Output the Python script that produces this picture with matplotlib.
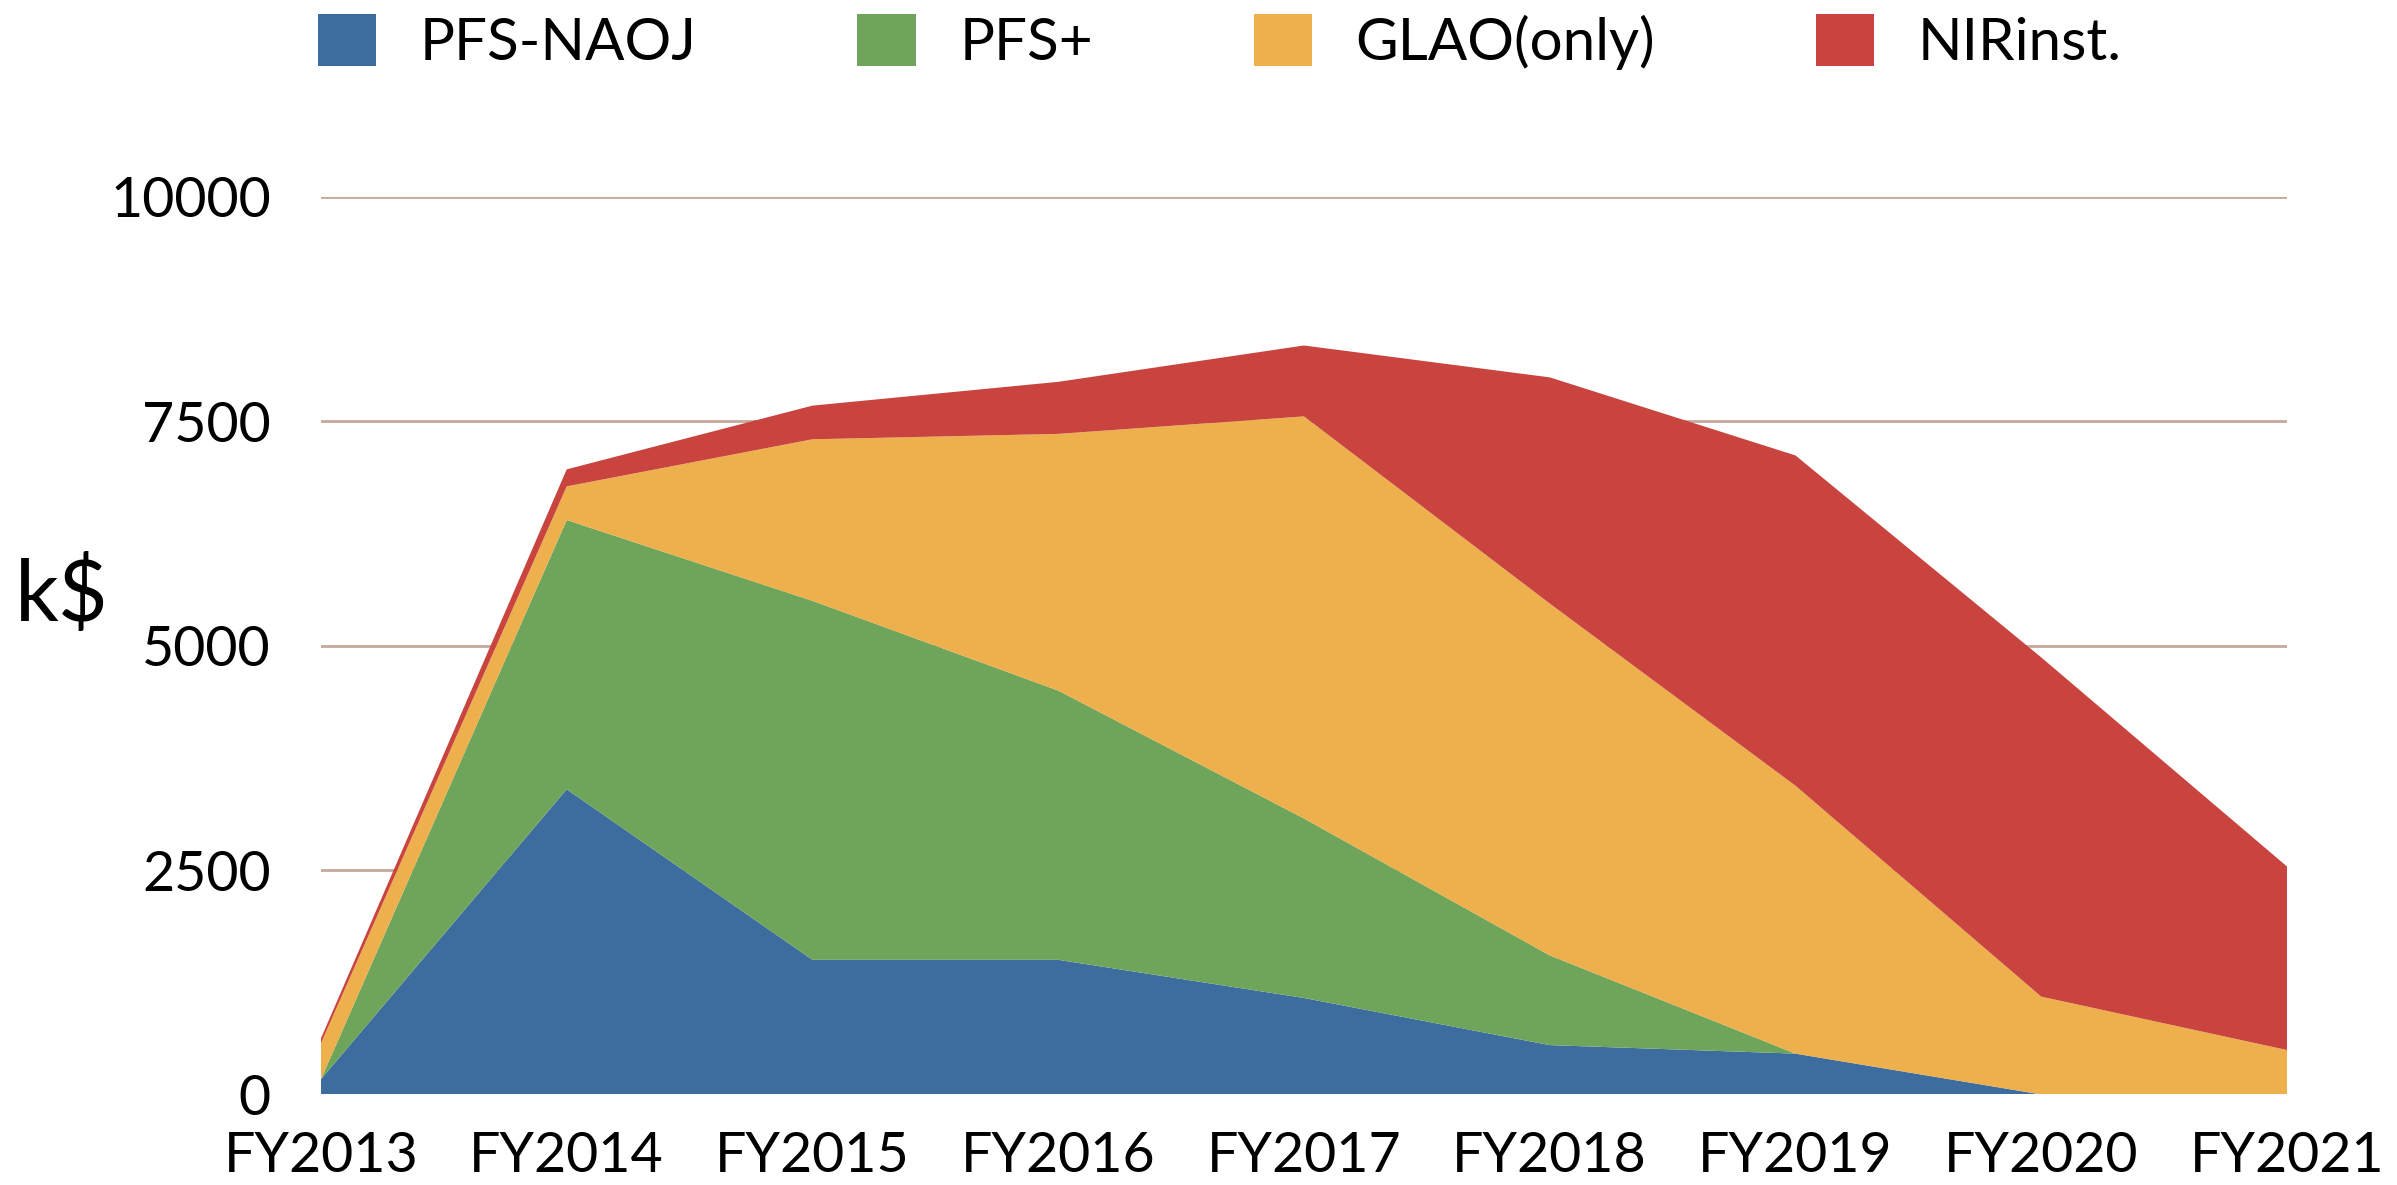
import numpy as np
import matplotlib
matplotlib.use("Agg")
import matplotlib.pyplot as plt
from matplotlib.patches import Patch

plt.rcParams['font.family'] = ['Lato', 'DejaVu Sans']

years = ['FY2013', 'FY2014', 'FY2015', 'FY2016', 'FY2017', 'FY2018', 'FY2019', 'FY2020', 'FY2021']
labels = ['PFS-NAOJ', 'PFS+', 'GLAO(only)', 'NIRinst.']

pfs_naoj = [170, 3400, 1500, 1500, 1075, 550, 455, 0, 0]
pfs_plus = [0, 3000, 4000, 3000, 2000, 1000, 0, 0, 0]
glao = [400, 375, 1800, 2860, 4480, 3920, 2985, 1090, 495]
nir = [55, 190, 375, 580, 790, 2520, 3680, 3780, 2045]

yticks = [0, 2500, 5000, 7500, 10000]
colors = ['#3d6c9e', '#6ea55a', '#edb04d', '#c9443f']

fig = plt.figure(figsize=(23.97, 11.85), dpi=100)
ax = fig.add_axes([0.1339, 0.0764, 0.8202, 0.7574])

x = np.arange(len(years))
ax.stackplot(x, pfs_naoj, pfs_plus, glao, nir, colors=colors, linewidth=0, zorder=3)

for t in yticks[1:]:
    ax.axhline(t, color='#c8a89b', linewidth=2, zorder=1)

ax.set_xlim(0, len(years) - 1)
ax.set_ylim(0, 10000)
ax.set_xticks(x)
ax.set_xticklabels(years)
ax.set_yticks(yticks)
ax.set_yticklabels([str(t) for t in yticks])
ax.tick_params(axis='both', length=0, labelsize=40)
ax.tick_params(axis='y', pad=36)
ax.tick_params(axis='x', pad=26)
for s in ax.spines.values():
    s.set_visible(False)

fig.text(0.006, 1 - 596 / 1185, 'k$', fontsize=62, va='center', ha='left')

# legend across the top
handles = [Patch(facecolor=c, edgecolor='none') for c in colors]
fig.legend(handles, labels, loc='upper left', bbox_to_anchor=(318 / 2397, 1 - 14 / 1185),
           ncol=4, frameon=False, fontsize=42, borderpad=0, borderaxespad=0,
           handlelength=1.0, handleheight=1.0, handletextpad=0.75, columnspacing=2.75)

fig.savefig('out.png', dpi=100)
